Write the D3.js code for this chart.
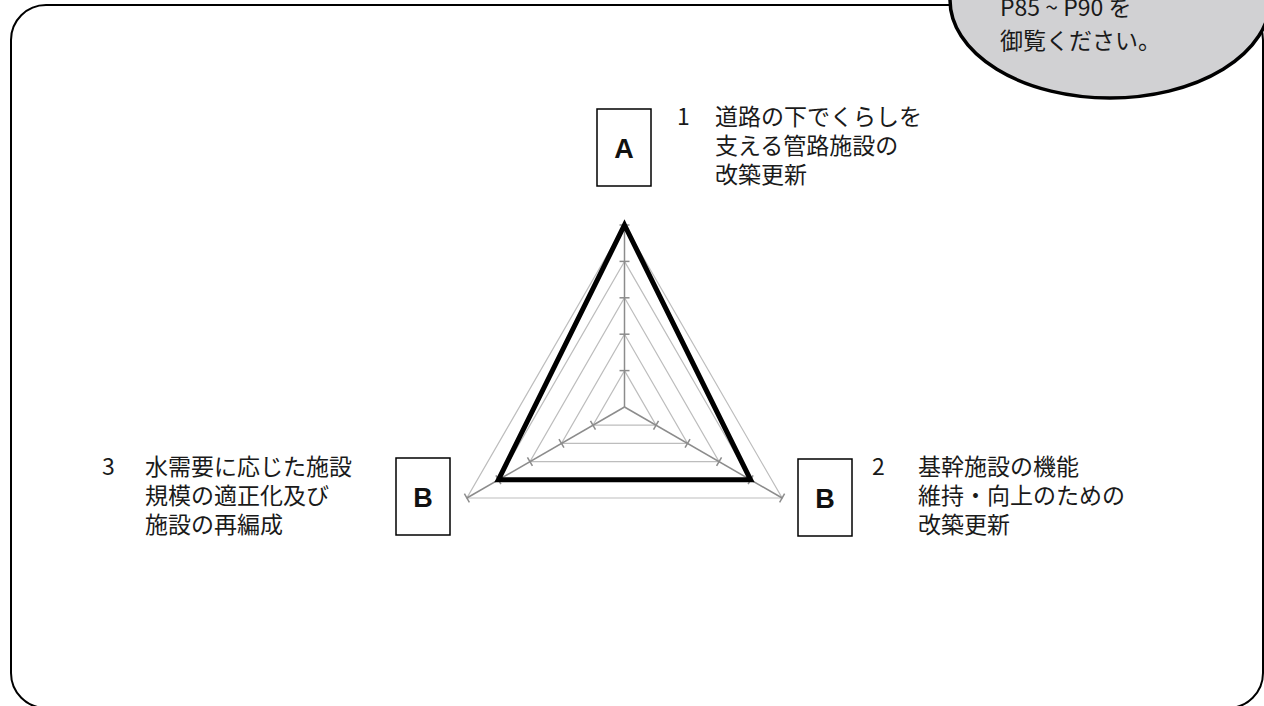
<!DOCTYPE html>
<html lang="ja">
<head>
  <meta charset="UTF-8">
  <title>施策評価レーダーチャート</title>
  <script src="https://d3js.org/d3.v7.min.js"></script>
  <style>
    body { margin: 0; background: #fff; }
    svg { display: block; }
    .label { font-family: "Noto Sans CJK JP", "Noto Sans", sans-serif; font-size: 23px; fill: #1a1a1a; }
    .grade { font-family: "Liberation Sans", Arial, sans-serif; font-size: 27px; font-weight: bold; fill: #111; }
  </style>
</head>
<body>
<div id="chart"></div>
<script>
  // data
  const axisNumbers = ["1", "2", "3"];
  const axisLabels = [
    ["道路の下でくらしを", "支える管路施設の", "改築更新"],
    ["基幹施設の機能", "維持・向上のための", "改築更新"],
    ["水需要に応じた施設", "規模の適正化及び", "施設の再編成"]
  ];
  const scores = [5, 4, 4];
  const grades = ["A", "B", "B"];
  const levels = [1, 2, 3, 4, 5];
  const noteLines = ["P85 ~ P90 を", "御覧ください。"];

  const width = 1264;
  const height = 706;
  const cx = 624.5, cy = 407, R = 182;

  const svg = d3.select("#chart").append("svg")
    .attr("width", width)
    .attr("height", height);

  // outer frame
  svg.append("rect")
    .attr("x", 11).attr("y", 5)
    .attr("width", 1252).attr("height", 703)
    .attr("rx", 35).attr("ry", 35)
    .attr("fill", "none")
    .attr("stroke", "#000")
    .attr("stroke-width", 2);

  // callout bubble
  svg.append("ellipse")
    .attr("cx", 1110).attr("cy", 0)
    .attr("rx", 160).attr("ry", 98)
    .attr("fill", "#d1d1d3")
    .attr("stroke", "#000")
    .attr("stroke-width", 3.5);

  svg.selectAll(".note")
    .data(noteLines)
    .enter()
    .append("text")
    .attr("class", "label note")
    .attr("x", 1000)
    .attr("y", (d, i) => 16 + i * 33)
    .text(d => d);

  const r = d3.scaleLinear().domain([0, 5]).range([0, R]);
  const angle = i => i * 2 * Math.PI / axisNumbers.length;

  const radial = d3.lineRadial()
    .angle((d, i) => angle(i))
    .radius(d => r(d))
    .curve(d3.curveLinearClosed);

  const g = svg.append("g").attr("transform", `translate(${cx},${cy})`);

  // grid triangles
  g.selectAll(".grid")
    .data(levels)
    .enter()
    .append("path")
    .attr("class", "grid")
    .attr("d", k => radial(axisNumbers.map(() => k)))
    .attr("fill", "none")
    .attr("stroke", "#bdbdbd")
    .attr("stroke-width", 1.2);

  // axes with tick marks
  const axes = g.selectAll(".axis")
    .data(axisNumbers)
    .enter()
    .append("g")
    .attr("class", "axis")
    .attr("transform", (d, i) => `rotate(${i * 360 / axisNumbers.length})`);

  axes.append("line")
    .attr("x1", 0).attr("y1", 0)
    .attr("x2", 0).attr("y2", -r(5))
    .attr("stroke", "#8c8c8c")
    .attr("stroke-width", 1.5);

  axes.selectAll(".tick")
    .data(levels)
    .enter()
    .append("line")
    .attr("class", "tick")
    .attr("x1", -5).attr("x2", 5)
    .attr("y1", k => -r(k)).attr("y2", k => -r(k))
    .attr("stroke", "#8c8c8c")
    .attr("stroke-width", 1.5);

  // score polygon
  g.append("path")
    .attr("d", radial(scores))
    .attr("fill", "none")
    .attr("stroke", "#000")
    .attr("stroke-width", 5)
    .attr("stroke-linejoin", "miter");

  // label blocks: grade box, number, text lines
  const labelPos = [
    { box: [597, 109], num: 677, text: 715, y: 115 },
    { box: [798, 459], num: 872, text: 918, y: 465 },
    { box: [396, 458], num: 102, text: 145, y: 465 }
  ];
  const boxW = 54, boxH = 77;

  const blocks = svg.selectAll(".block")
    .data(axisNumbers)
    .enter()
    .append("g")
    .attr("class", "block");

  blocks.append("rect")
    .attr("x", (d, i) => labelPos[i].box[0])
    .attr("y", (d, i) => labelPos[i].box[1])
    .attr("width", boxW).attr("height", boxH)
    .attr("fill", "#fff")
    .attr("stroke", "#000")
    .attr("stroke-width", 1.5);

  blocks.append("text")
    .attr("class", "grade")
    .attr("x", (d, i) => labelPos[i].box[0] + boxW / 2)
    .attr("y", (d, i) => labelPos[i].box[1] + boxH / 2 + 10)
    .attr("text-anchor", "middle")
    .text((d, i) => grades[i]);

  blocks.append("text")
    .attr("class", "label")
    .attr("x", (d, i) => labelPos[i].num)
    .attr("y", (d, i) => labelPos[i].y)
    .attr("dominant-baseline", "central")
    .text(d => d);

  blocks.each(function (d, i) {
    d3.select(this).selectAll(".line")
      .data(axisLabels[i])
      .enter()
      .append("text")
      .attr("class", "label line")
      .attr("x", labelPos[i].text)
      .attr("y", (t, j) => labelPos[i].y + j * 29)
      .attr("dominant-baseline", "central")
      .text(t => t);
  });
</script>
</body>
</html>
